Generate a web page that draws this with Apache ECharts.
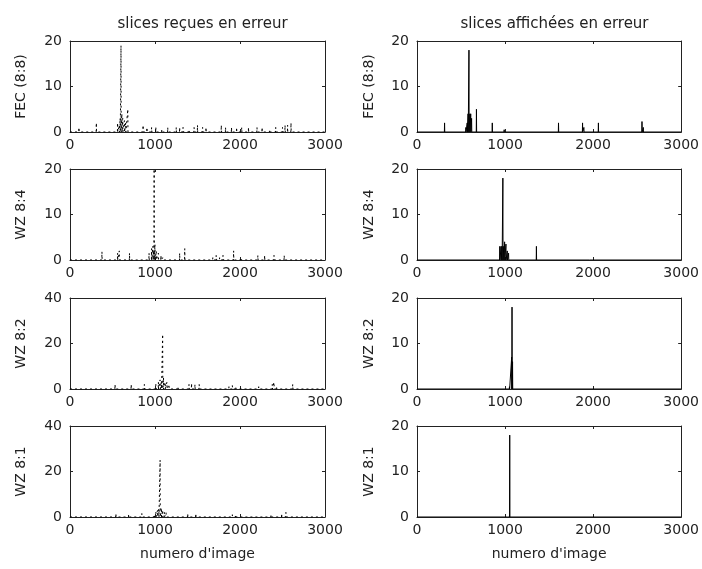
<!DOCTYPE html>
<html>
<head>
<meta charset="utf-8">
<script src="https://cdn.jsdelivr.net/npm/echarts@6/dist/echarts.min.js"></script>
<style>html,body{margin:0;padding:0;background:#fff}#c{width:702px;height:569px}</style>
</head>
<body>
<div id="c"></div>
<script>
// ---- data (frame number, errors) ----
const xTicks = [0, 1000, 2000, 3000];
const colTitles = ['slices reçues en erreur', 'slices affichées en erreur'];
const rowNames = ['FEC (8:8)', 'WZ 8:4', 'WZ 8:2', 'WZ 8:1'];
const xName = "numero d'image";

// received slices in error (left column)
const fecRecX = [105,310,560,580,590,600,610,620,640,655,680,860,905,960,1010,1080,1150,1250,1290,1330,1400,1460,1500,1560,1600,1780,1830,1900,1960,2020,2100,2200,2260,2350,2420,2500,2530,2560,2600];
const fecRecY = [1,2,2,1.5,3,19,4,3,2.5,2,5,1.5,1,1,1,0.5,1,1,1,1,0.5,1,1.5,1,1,1.5,1,1,1,1,1,1,1,0.5,1,1,1.5,1.5,2];
const wz4RecX = [376,560,580,700,930,960,975,985,990,1000,1015,1040,1070,1090,1290,1350,1680,1720,1760,1800,1925,2010,2210,2290,2400,2520];
const wz4RecY = [1.8,1.5,2,1.5,1.5,2.5,3,2,20,3.4,2,1.5,1,0.5,1.5,2.5,0.5,1,0.5,1,2,0.5,1,1,1,1];
const wz2RecX = [530,720,875,1010,1040,1060,1075,1090,1100,1120,1140,1165,1270,1400,1430,1470,1520,1870,1910,1950,2220,2380,2400,2430,2620];
const wz2RecY = [2,2,2,2,3,4,3,24,5,3,3,2,1,2,2.5,2,2,1,1.5,1,1,2,3,1,2];
const wz1RecX = [540,690,845,990,1010,1030,1045,1060,1075,1090,1110,1130,1385,1480,1910,1950,1990,2365,2490,2540];
const wz1RecY = [1.5,1,1.5,1,2,3,3.5,25,4,3,2,2,1.5,1.5,1,1,0.5,1,1.5,2];

// displayed slices in error (right column)
const fecDispX = [313,555,570,580,590,600,610,620,675,855,990,1607,1880,1895,2060,2555,2570];
const fecDispY = [2,1,2,4,18,4,4,3,5,2,0.5,2,2,1,2,2.3,1];
const wz4DispX = [940,955,965,975,985,995,1010,1025,1040,1356,1960];
const wz4DispY = [3,3,3,18,3,4,3.5,2,1.5,3,0.3];
const wz2DispX = [1050,1075,1079,1085];
const wz2DispY = [0.5,7,18,6];
const wz1DispX = [1030,1053];
const wz1DispY = [0.3,18];

const yMaxLeft = [20, 20, 40, 40];
const yStepLeft = [10, 10, 20, 20];
const yMaxRight = [20, 20, 20, 20];
const yStepRight = [10, 10, 10, 10];

// ---- layout ----
const FONT = 'DejaVu Sans';
const tops = [41, 169, 298, 426];
const H = 91;
const cols = [{left: 70, width: 255}, {left: 417, width: 265}];

function spikes(xs, ys) {
  const d = [[0, 0]];
  for (let i = 0; i < xs.length; i++) {
    d.push([xs[i] - 2, 0], [xs[i], ys[i]], [xs[i] + 2, 0]);
  }
  d.push([3000, 0]);
  return d;
}

const panels = [
  [[fecRecX, fecRecY], [fecDispX, fecDispY]],
  [[wz4RecX, wz4RecY], [wz4DispX, wz4DispY]],
  [[wz2RecX, wz2RecY], [wz2DispX, wz2DispY]],
  [[wz1RecX, wz1RecY], [wz1DispX, wz1DispY]]
];

const grid = [], xAxis = [], yAxis = [], series = [], title = [];
const axisColor = '#222';
const labelStyle = {color: '#222', fontFamily: FONT, fontSize: 14};
const plain = v => String(v);
let gi = 0;
for (let r = 0; r < 4; r++) {
  for (let c = 0; c < 2; c++) {
    const g = cols[c];
    grid.push({left: g.left, width: g.width, top: tops[r], height: H, show: false});
    const ymax = c === 0 ? yMaxLeft[r] : yMaxRight[r];
    const ystep = c === 0 ? yStepLeft[r] : yStepRight[r];
    const tick = {show: true, inside: true, length: 3, lineStyle: {color: axisColor}};
    const line = {show: true, onZero: false, lineStyle: {color: axisColor, width: 1}};
    // bottom x
    xAxis.push({
      type: 'value', gridIndex: gi, min: 0, max: 3000, interval: 1000, position: 'bottom',
      axisLine: line, axisTick: tick, splitLine: {show: false},
      axisLabel: Object.assign({margin: 6, formatter: plain}, labelStyle),
      name: r === 3 ? xName : '', nameLocation: 'middle', nameGap: 30,
      nameTextStyle: labelStyle
    });
    // top x (ticks only)
    xAxis.push({
      type: 'value', gridIndex: gi, min: 0, max: 3000, interval: 1000, position: 'top',
      axisLine: line, axisTick: tick, splitLine: {show: false}, axisLabel: {show: false}
    });
    // left y
    yAxis.push({
      type: 'value', gridIndex: gi, min: 0, max: ymax, interval: ystep, position: 'left',
      axisLine: line, axisTick: tick, splitLine: {show: false},
      axisLabel: Object.assign({margin: 8, formatter: plain}, labelStyle),
      name: rowNames[r], nameLocation: 'middle', nameGap: c === 0 ? 42 : 41, nameRotate: 90,
      nameTextStyle: labelStyle
    });
    // right y (ticks only)
    yAxis.push({
      type: 'value', gridIndex: gi, min: 0, max: ymax, interval: ystep, position: 'right',
      axisLine: line, axisTick: tick, splitLine: {show: false}, axisLabel: {show: false}
    });
    const [xs, ys] = panels[r][c];
    series.push({
      type: 'line', xAxisIndex: gi * 2, yAxisIndex: gi * 2, data: spikes(xs, ys),
      symbol: 'none', silent: true, animation: false,
      lineStyle: {color: '#000', width: 1, type: c === 0 ? [2, 3] : 'solid'}
    });
    if (r === 0) {
      title.push({
        text: colTitles[c], left: g.left + g.width / 2, top: 12, textAlign: 'center',
        textStyle: {color: '#222', fontFamily: FONT, fontSize: 15, fontWeight: 'normal'}
      });
    }
    gi++;
  }
}

const chart = echarts.init(document.getElementById('c'), null, {renderer: 'canvas'});
chart.setOption({backgroundColor: '#fff', animation: false, title, grid, xAxis, yAxis, series});
</script>
</body>
</html>
